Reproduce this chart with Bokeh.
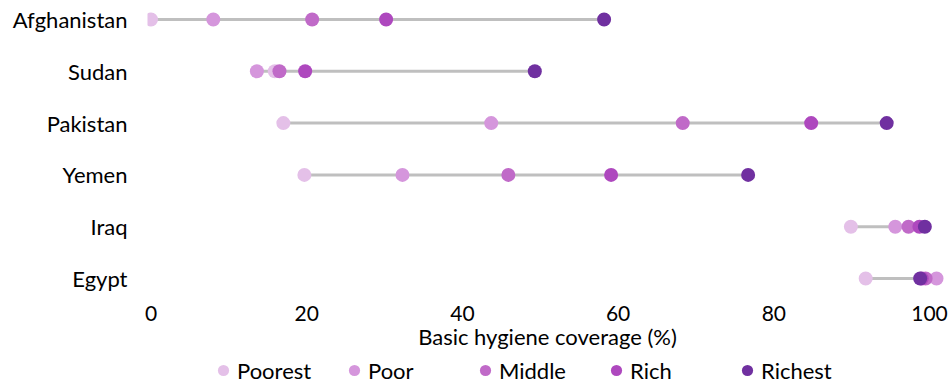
from bokeh.plotting import figure
from bokeh.layouts import column
from bokeh.models import Range1d, FactorRange, FixedTicker, Legend, LegendItem
from bokeh.embed import file_html
from bokeh.resources import INLINE

# ---- data ----
countries = ["Afghanistan", "Sudan", "Pakistan", "Yemen", "Iraq", "Egypt"]
groups = ["Poorest", "Poor", "Middle", "Rich", "Richest"]
poorest = [0.0, 15.9, 17.0, 19.7, 89.9, 91.8]
poor = [8.0, 13.6, 43.7, 32.3, 95.6, 100.9]
middle = [20.7, 16.5, 68.3, 45.9, 97.3, 99.5]
rich = [30.2, 19.8, 84.8, 59.1, 98.7, 99.0]
richest = [58.2, 49.3, 94.5, 76.7, 99.4, 98.8]
x_ticks = [0, 20, 40, 60, 80, 100]
x_title = "Basic hygiene coverage (%)"

colors = ["#e4c0e8", "#d596dc", "#c06ac8", "#ae48be", "#7030a0"]
FONT = "Lato"

series = [poorest, poor, middle, rich, richest]
lo = [min(v) for v in zip(*series)]
hi = [max(v) for v in zip(*series)]

# ---------------- main chart ----------------
p = figure(width=951, height=355, output_backend="svg",
           toolbar_location=None,
           x_range=Range1d(-0.45, 102.31),
           y_range=FactorRange(factors=list(reversed(countries)),
                               range_padding=-0.2876, range_padding_units="absolute"),
           min_border_left=147, min_border_right=4, min_border_top=8,
           min_border_bottom=66)
p.outline_line_color = None
p.grid.visible = False

p.segment(x0=lo, y0=countries, x1=hi, y1=countries,
          line_color="#bfbfbf", line_width=3)

for name, vals, col in zip(groups, series, colors):
    p.scatter(x=vals, y=countries, size=14, fill_color=col, line_color=None)

xa = p.xaxis[0]
xa.ticker = FixedTicker(ticks=x_ticks)
xa.axis_line_color = None
xa.major_tick_line_color = None
xa.minor_tick_line_color = None
xa.major_tick_out = 0
xa.major_label_standoff = 16
xa.major_label_text_font = FONT
xa.major_label_text_font_size = "21px"
xa.major_label_text_color = "#000000"
xa.axis_label = x_title
xa.axis_label_text_font = FONT
xa.axis_label_text_font_size = "22px"
xa.axis_label_text_font_style = "normal"
xa.axis_label_text_color = "#000000"
xa.axis_label_standoff = -1

ya = p.yaxis[0]
ya.axis_line_color = None
ya.major_tick_line_color = None
ya.minor_tick_line_color = None
ya.major_tick_out = 0
ya.major_label_standoff = 20
ya.major_label_text_font = FONT
ya.major_label_text_font_size = "22px"
ya.major_label_text_color = "#000000"

# ---------------- legend strip ----------------
# (its frame is aligned with the chart's frame by the column layout;
#  its ranges show none of the data, only the legend is visible)
lg = figure(width=951, height=29, output_backend="svg", toolbar_location=None,
            x_range=Range1d(200, 201), y_range=Range1d(200, 201),
            x_axis_location=None, y_axis_location=None,
            min_border_left=147, min_border_right=4, min_border_top=0,
            min_border_bottom=0)
lg.outline_line_color = None
lg.grid.visible = False

items = []
for name, vals, col in zip(groups, series, colors):
    r = lg.scatter(x=vals, y=vals, size=14, fill_color=col, line_color=None)
    items.append(LegendItem(label=name, renderers=[r]))

legend = Legend(items=items, orientation="horizontal", location=(62, -2),
                glyph_width=28, glyph_height=32, label_standoff=0,
                label_width=93, spacing=10, padding=0, margin=0,
                label_text_font=FONT, label_text_font_size="22px",
                label_text_color="#000000",
                border_line_color=None, background_fill_alpha=0)
lg.add_layout(legend, "center")

open("out.html", "w").write(file_html(column(p, lg, spacing=0), INLINE))
